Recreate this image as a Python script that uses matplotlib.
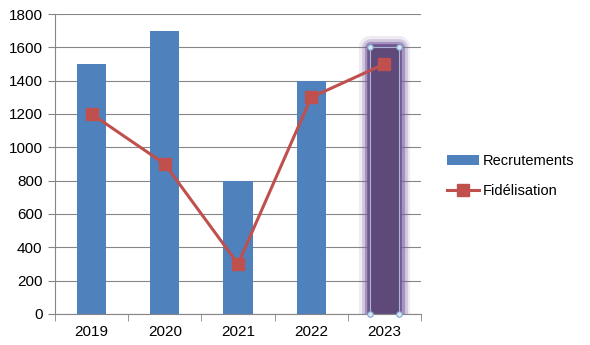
import matplotlib.pyplot as plt
import matplotlib.patheffects as pe

years = ['2019', '2020', '2021', '2022', '2023']
recrutements = [1500, 1700, 800, 1400, 1600]
fidelisation = [1200, 900, 300, 1300, 1500]

plt.rcParams['font.family'] = ['Liberation Sans', 'DejaVu Sans']

fig = plt.figure(figsize=(5.9, 3.45), dpi=100)
ax = fig.add_axes([0.0932, 0.0899, 0.6204, 0.8695])

x = list(range(len(years)))
colors = ['#4F81BD'] * 4 + ['#5F497A']
bars = ax.bar(x, recrutements, width=0.4, color=colors, zorder=2, label='Recrutements')

# selected bar: soft glow + handles
sel = bars[-1]
glow = '#7B5FA0'
sel.set_path_effects([pe.Stroke(linewidth=16, foreground=glow, alpha=0.12, joinstyle='round'),
                      pe.Stroke(linewidth=12, foreground=glow, alpha=0.25, joinstyle='round'),
                      pe.Stroke(linewidth=8, foreground=glow, alpha=0.5, joinstyle='round'),
                      pe.Stroke(linewidth=4, foreground='#6A4F8C', alpha=0.9, joinstyle='round'),
                      pe.Normal()])
sx, sw, sh = sel.get_x(), sel.get_width(), sel.get_height()
ax.plot([sx, sx + sw, sx + sw, sx, sx], [0, 0, sh, sh, 0], color='#A9B8D0', lw=0.8, zorder=3)
ax.plot([sx, sx + sw, sx, sx + sw], [0, 0, sh, sh], 'o', ms=4, mfc='#DCE6F2',
        mec='#7FA7CF', mew=0.8, zorder=4, clip_on=False)

ax.plot(x, fidelisation, color='#C0504D', lw=2.2, marker='s', ms=8, zorder=5,
        label='Fidélisation')

ax.set_ylim(0, 1800)
ax.set_yticks(range(0, 1801, 200))
ax.set_xlim(-0.5, 4.5)
ax.set_xticks(x)
ax.set_xticklabels(years)
ax.set_xticks([i - 0.5 for i in range(6)], minor=True)
ax.tick_params(axis='x', which='major', length=0, pad=8)
ax.tick_params(axis='x', which='minor', length=5, color='#868686', direction='out')
ax.tick_params(axis='y', length=5, color='#868686', direction='out', pad=4)
ax.tick_params(labelsize=11)
ax.yaxis.grid(True, color='#868686', lw=0.8, zorder=0)
ax.set_axisbelow(True)
for s in ['top', 'right']:
    ax.spines[s].set_visible(False)
for s in ['left', 'bottom']:
    ax.spines[s].set_color('#868686')

fig.legend(handles=[bars[0], ax.lines[-1]], labels=['Recrutements', 'Fidélisation'],
           loc='center left', bbox_to_anchor=(0.735, 0.49), frameon=False,
           fontsize=10.5, handlelength=2.2, labelspacing=1.1, handletextpad=0.3)

fig.savefig('out.png', dpi=100)
